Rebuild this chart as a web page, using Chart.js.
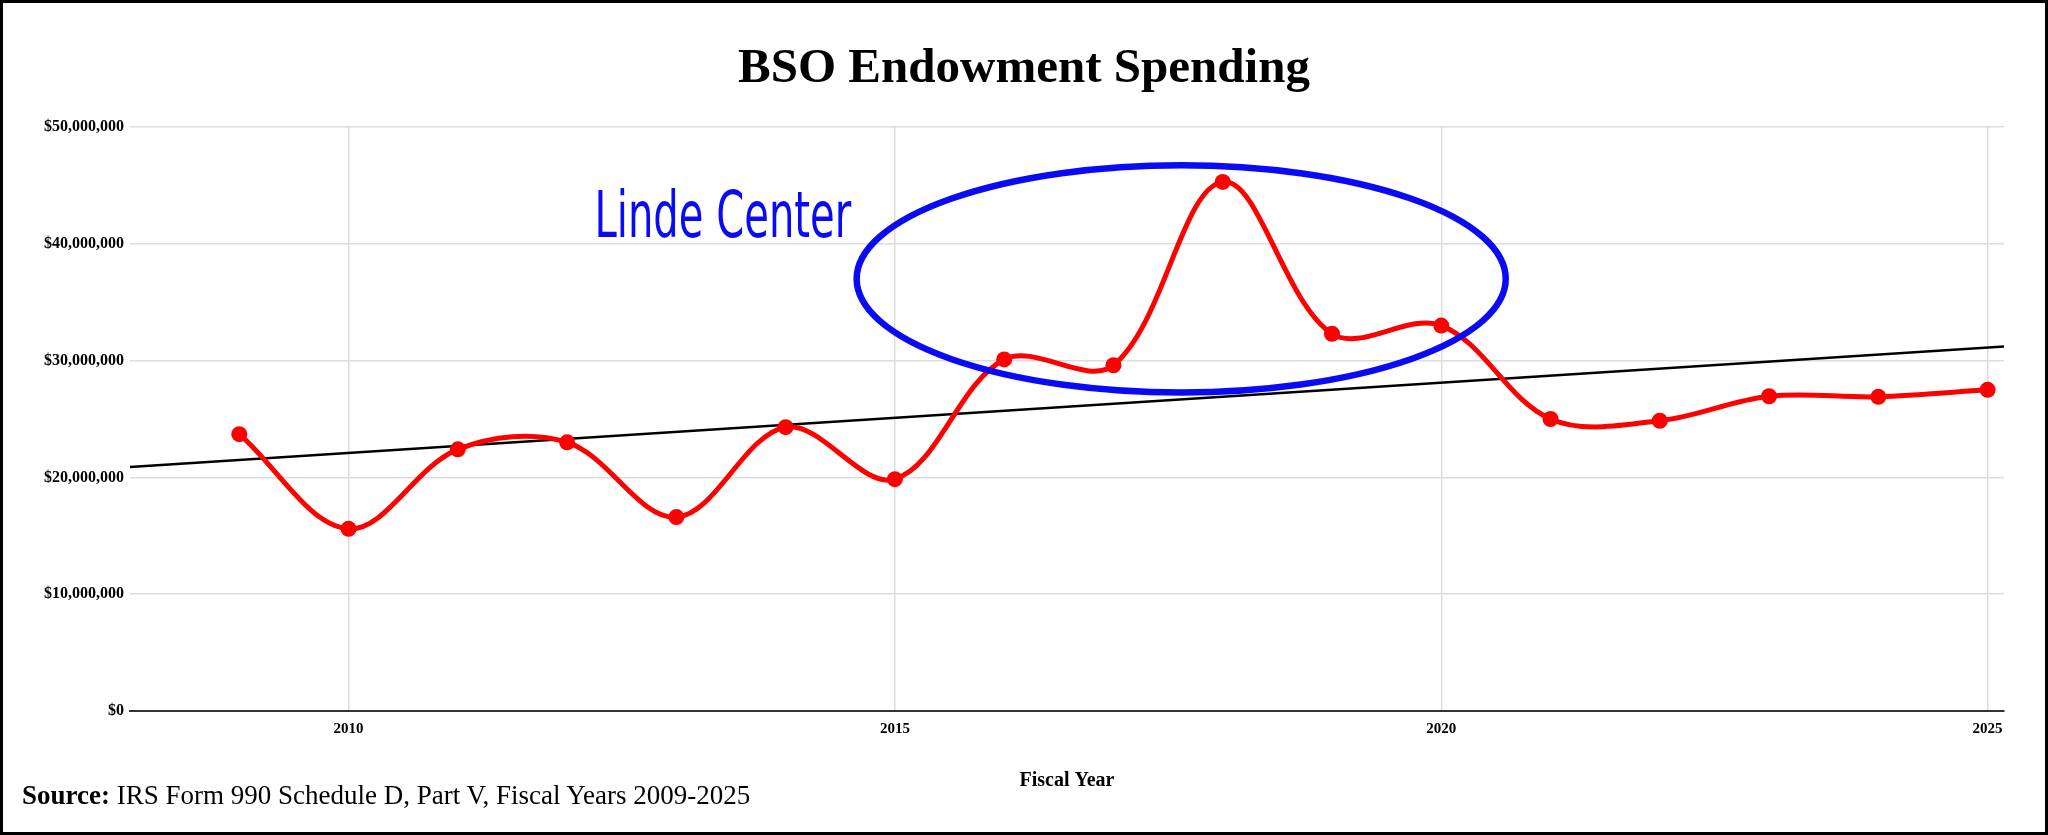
<!DOCTYPE html>
<html>
<head>
<meta charset="utf-8">
<title>BSO Endowment Spending</title>
<script src="https://cdn.jsdelivr.net/npm/chart.js@4.4.1/dist/chart.umd.min.js"></script>
<style>
  html, body { margin: 0; padding: 0; background: #fff; }
  #wrap { position: relative; width: 2048px; height: 835px; }
  #frame {
    position: absolute; left: 0; top: 0; width: 2048px; height: 835px;
    box-sizing: border-box; border: 3px solid #000; pointer-events: none;
  }
  #source {
    position: absolute; left: 22px; top: 782px;
    font: 27px/27px "Liberation Serif", "Times New Roman", serif; color: #000;
    white-space: nowrap;
  }
</style>
</head>
<body>
<div id="wrap">
  <canvas id="Chart" width="2048" height="835"></canvas>
  <div id="source"><b>Source:</b> IRS Form 990 Schedule D, Part V, Fiscal Years 2009-2025</div>
  <div id="frame"></div>
</div>
<script>
// values
const years = [2009, 2010, 2011, 2012, 2013, 2014, 2015, 2016, 2017,
               2018, 2019, 2020, 2021, 2022, 2023, 2024, 2025];
const spending = [23700000, 15600000, 22400000, 23000000, 16600000, 24300000,
                  19850000, 30100000, 29600000, 45300000, 32300000, 33000000,
                  25000000, 24850000, 26950000, 26900000, 27500000];

// trend line, ends at the edges of the plot
const trendYears = [2008, 2025.15];
const trendValues = [20900000, 31200000];

const xTicks = [2010, 2015, 2020, 2025];
const yTicks = [0, 10000000, 20000000, 30000000, 40000000, 50000000];

// hand drawn note (in data units)
const noteText = 'Linde Center';
const noteAt = { year: 2012.25, value: 40600000, endYear: 2014.6 };
const ring = { year: 2017.62, value: 37000000, yearRadius: 2.97, valueRadius: 9730000 };

const serif = '"Liberation Serif", "Times New Roman", serif';

const notePlugin = {
  id: 'lindeNote',
  afterDatasetsDraw(chart) {
    const ctx = chart.ctx;
    const xs = chart.scales.x, ys = chart.scales.y;

    const cx = xs.getPixelForValue(ring.year);
    const cy = ys.getPixelForValue(ring.value);
    const rx = xs.getPixelForValue(ring.year + ring.yearRadius) - cx;
    const ry = cy - ys.getPixelForValue(ring.value + ring.valueRadius);
    ctx.save();
    ctx.strokeStyle = '#0a0af5';
    ctx.lineWidth = 6.5;
    ctx.beginPath();
    ctx.ellipse(cx, cy, rx, ry, 0, 0, Math.PI * 2);
    ctx.stroke();

    // text squeezed to the width it has in the picture
    const tx = xs.getPixelForValue(noteAt.year);
    const ty = ys.getPixelForValue(noteAt.value);
    const want = xs.getPixelForValue(noteAt.endYear) - tx;
    ctx.font = '64px "DejaVu Sans Condensed", "DejaVu Sans", sans-serif';
    const w = ctx.measureText(noteText).width;
    ctx.translate(tx, ty);
    ctx.scale(want / w, 1);
    ctx.fillStyle = '#0a0af5';
    ctx.textBaseline = 'alphabetic';
    ctx.fillText(noteText, 0, 0);
    ctx.restore();
  }
};

let ctx = document.getElementById('Chart').getContext('2d');
let myChart = new Chart(ctx, {
  type: 'line',
  data: {
    datasets: [{
      label: 'Endowment Spending',
      data: years.map((yr, i) => ({ x: yr, y: spending[i] })),
      borderColor: '#ff0000',
      backgroundColor: '#ff0000',
      pointBackgroundColor: '#ff0000',
      borderWidth: 5,
      pointRadius: 8,
      pointHoverRadius: 8,
      pointBorderWidth: 0,
      tension: 0.35,
      fill: false
    }, {
      label: 'Trend',
      data: trendYears.map((yr, i) => ({ x: yr, y: trendValues[i] })),
      borderColor: '#000000',
      borderWidth: 2.5,
      pointRadius: 0,
      pointHoverRadius: 0,
      tension: 0,
      fill: false
    }]
  },
  options: {
    responsive: false,
    animation: false,
    devicePixelRatio: 1,
    layout: { padding: { left: 0, right: 0, top: 0, bottom: 42 } },
    plugins: {
      legend: { display: false },
      tooltip: { enabled: false },
      title: {
        display: true,
        text: 'BSO Endowment Spending',
        color: '#000',
        font: { family: serif, size: 49, weight: 'bold' },
        padding: { top: 39.6, bottom: 28.6 }
      }
    },
    scales: {
      x: {
        type: 'linear',
        min: trendYears[0],
        max: trendYears[1],
        afterBuildTicks: s => { s.ticks = xTicks.map(v => ({ value: v })); },
        ticks: {
          callback: v => String(v),
          color: '#000',
          font: { family: serif, size: 15, weight: 'bold' },
          padding: 9,
          maxRotation: 0,
          autoSkip: false
        },
        grid: { color: '#dddddd', lineWidth: 1.5, drawTicks: false },
        border: { display: true, color: '#333333', width: 2 },
        title: {
          display: true,
          text: 'Fiscal Year',
          color: '#000',
          font: { family: serif, size: 20, weight: 'bold' },
          padding: { top: 22, bottom: 0 }
        }
      },
      y: {
        min: 0,
        max: 50000000,
        afterBuildTicks: s => { s.ticks = yTicks.map(v => ({ value: v })); },
        afterFit: s => { s.width = 130; },
        ticks: {
          callback: v => '$' + v.toLocaleString('en-US'),
          color: '#000',
          font: { family: serif, size: 16, weight: 'bold' },
          padding: 6
        },
        grid: { color: '#dddddd', lineWidth: 1.5, drawTicks: false },
        border: { display: false }
      },
      // empty margin on the right so the title stays centred on the page
      right: {
        position: 'right',
        afterFit: s => { s.width = 44; },
        ticks: { display: false },
        grid: { display: false },
        border: { display: false }
      }
    }
  },
  plugins: [notePlugin]
});
</script>
</body>
</html>
